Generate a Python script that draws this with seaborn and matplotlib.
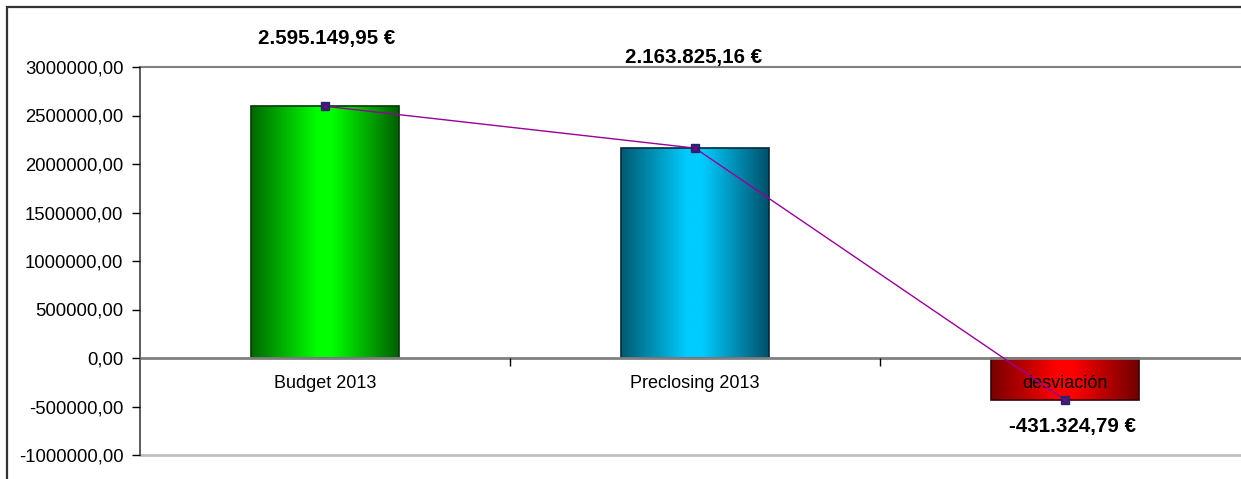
import numpy as np
import pandas as pd
import matplotlib
matplotlib.use("Agg")
import matplotlib.pyplot as plt
from matplotlib.colors import LinearSegmentedColormap
from matplotlib.patches import Rectangle
from matplotlib.ticker import FuncFormatter, FixedLocator
import seaborn as sns

# ---- data ----
categories = ["Budget 2013", "Preclosing 2013", "desviación"]
values = [2595149.95, 2163825.16, -431324.79]
yticks = [-1000000, -500000, 0, 500000, 1000000, 1500000, 2000000, 2500000, 3000000]

# ---- style ----
sns.set_theme(style="white")
plt.rcParams["font.family"] = ["Liberation Sans", "DejaVu Sans"]

grad_stops = [
    [(0.0, "#006800"), (0.45, "#00ff00"), (0.55, "#00ff00"), (1.0, "#006000")],
    [(0.0, "#005a72"), (0.45, "#00ccff"), (0.55, "#00ccff"), (1.0, "#00506a")],
    [(0.0, "#780000"), (0.45, "#ff0000"), (0.55, "#ff0000"), (1.0, "#700000")],
]
edge_colors = ["#003a00", "#002a38", "#3a0000"]

fig = plt.figure(figsize=(12.41, 4.79), dpi=100)
ax = fig.add_axes([140 / 1241, 24 / 479, 1110 / 1241, 388 / 479])

df = pd.DataFrame({"cat": categories, "val": values})
sns.barplot(data=df, x="cat", y="val", hue="cat", palette=["#00ff00", "#00ccff", "#ff0000"],
            width=0.4, legend=False, ax=ax, zorder=2)

# gradient fills clipped to bars
for patch, stops, ec in zip(ax.patches, grad_stops, edge_colors):
    x0, y0 = patch.get_x(), patch.get_y()
    w, h = patch.get_width(), patch.get_height()
    cmap = LinearSegmentedColormap.from_list("g", stops)
    grad = np.linspace(0, 1, 256).reshape(1, -1)
    ylo, yhi = min(y0, y0 + h), max(y0, y0 + h)
    im = ax.imshow(grad, cmap=cmap, extent=[x0, x0 + w, ylo, yhi], aspect="auto",
                   zorder=1.8, interpolation="bicubic")
    im.set_clip_path(patch)
    patch.set_facecolor("none")
    patch.set_edgecolor(ec)
    patch.set_linewidth(1.2)
    patch.set_zorder(1.9)

ax.set_xlim(-0.5, 2.5)
ax.set_ylim(-1000000, 3000000)

# line with markers
xs = np.arange(len(categories))
ax.plot(xs, values, color="#990099", lw=1.0, zorder=3)
ax.plot(xs, values, ls="none", marker="s", ms=6, mfc="#1f2a6e", mec="#1f2a6e", zorder=4)
ax.plot(xs, values, ls="none", marker="x", ms=4, mec="#800080", mew=1, zorder=5)

# axes styling
ax.set_axisbelow(False)
ax.set_xlabel("")
ax.set_ylabel("")
ax.yaxis.set_major_locator(FixedLocator(yticks))
ax.yaxis.set_major_formatter(FuncFormatter(lambda v, p: f"{v:.2f}".replace(".", ",")))
ax.tick_params(axis="y", which="major", direction="out", length=6, width=1, color="black",
               labelsize=13.3, labelcolor="black", pad=6, left=True)

ax.spines["bottom"].set_position(("data", 0))
ax.spines["bottom"].set_color("#808080")
ax.spines["bottom"].set_linewidth(2)
ax.spines["top"].set_color("#808080")
ax.spines["top"].set_linewidth(1.5)
ax.spines["left"].set_color("#404040")
ax.spines["left"].set_linewidth(1.2)
ax.spines["right"].set_visible(False)
ax.axhline(-1000000, color="#c0c0c0", lw=2, zorder=1, clip_on=False)

ax.set_xticks(xs)
ax.set_xticklabels(categories)
ax.set_xticks([0.5, 1.5], minor=True)
ax.tick_params(axis="x", which="major", length=0, labelsize=13, labelcolor="black", pad=12)
ax.tick_params(axis="x", which="minor", direction="out", length=6, width=1, color="black", bottom=True)

# value labels
def fmt_eur(v):
    s = f"{abs(v):,.2f}".replace(",", "X").replace(".", ",").replace("X", ".")
    return ("-" if v < 0 else "") + s + " €"

label_pos = [(0.005, 3290000), (0.995, 3100000), (2.02, -710000)]
for v, (lx, ly) in zip(values, label_pos):
    ax.text(lx, ly, fmt_eur(v), ha="center", va="center", fontsize=14.8, fontweight="bold",
            color="black", clip_on=False, zorder=6)

# outer chart frame
fig.patches.append(Rectangle((7 / 1241, -0.2), 1.5, 1.2 - 7 / 479,
                             transform=fig.transFigure, fill=False, edgecolor="#333333",
                             lw=1.6, zorder=10))

fig.savefig("out.png", dpi=100)
